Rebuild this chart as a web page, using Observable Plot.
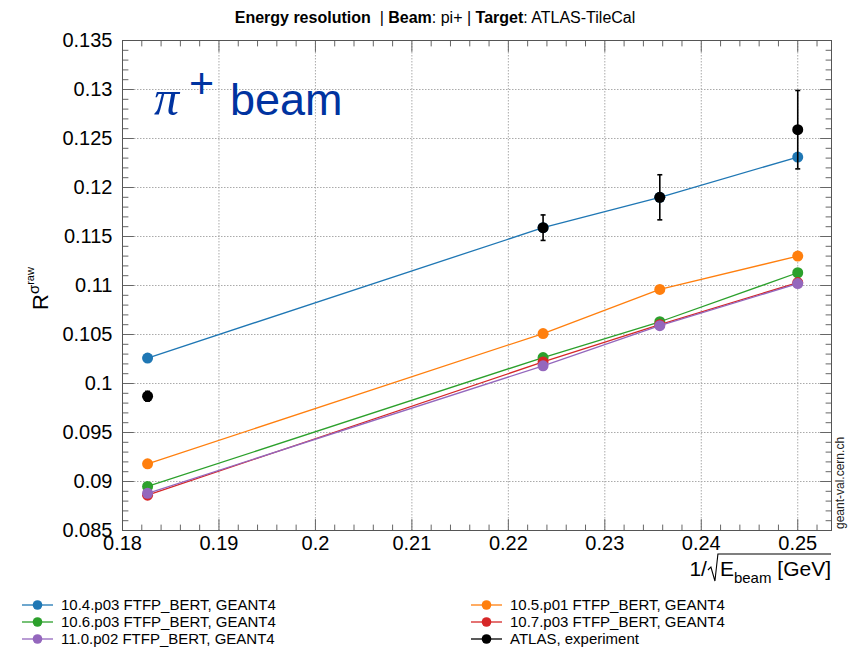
<!DOCTYPE html>
<html><head><meta charset="utf-8">
<script src="https://cdn.jsdelivr.net/npm/d3@7"></script>
<script src="https://cdn.jsdelivr.net/npm/@observablehq/plot@0.6"></script>
<style>body{margin:0;background:#fff;} svg{display:block}</style>
</head><body><div id="chart"></div>
<script>
// ---------- data ----------
const xValues = [0.1826, 0.2236, 0.2357, 0.25]; // 1/sqrt(E) for 30, 20, 18, 16 GeV
const seriesNames = [
  "10.4.p03 FTFP_BERT, GEANT4",
  "10.5.p01 FTFP_BERT, GEANT4",
  "10.6.p03 FTFP_BERT, GEANT4",
  "10.7.p03 FTFP_BERT, GEANT4",
  "11.0.p02 FTFP_BERT, GEANT4"
];
const seriesColors = ["#1f77b4", "#ff7f0e", "#2ca02c", "#d62728", "#9467bd"];
const v104 = [0.1026, 0.1159, 0.1190, 0.1231];
const v105 = [0.0918, 0.1051, 0.1096, 0.1130];
const v106 = [0.0895, 0.10265, 0.1063, 0.1113];
const v107 = [0.0886, 0.1022, 0.1060, 0.1103];
const v110 = [0.0888, 0.1018, 0.1059, 0.1102];
const atlasName = "ATLAS, experiment";
const atlasY = [0.0987, 0.1159, 0.1190, 0.1259];
const atlasErr = [0.0005, 0.0013, 0.0023, 0.0040];
const xTicks = [0.18, 0.19, 0.2, 0.21, 0.22, 0.23, 0.24, 0.25];
const yTicks = [0.085, 0.09, 0.095, 0.1, 0.105, 0.11, 0.115, 0.12, 0.125, 0.13, 0.135];
const xDomain = [0.18, 0.2535];
const yDomain = [0.085, 0.135];
const legendOrder = [0, 1, 2, 3, 4, 5]; // 5 = ATLAS

// ---------- build tables ----------
const seriesValues = [v104, v105, v106, v107, v110];
const sim = seriesValues.flatMap((vals, i) => vals.map((v, j) => ({series: seriesNames[i], idx: i, x: xValues[j], y: v})));
const atlas = atlasY.map((v, j) => ({x: xValues[j], y: v, lo: v - atlasErr[j], hi: v + atlasErr[j]}));
const xMinor = d3.range(0, 37).map(k => +(0.18 + k * 0.002).toFixed(4)).filter(v => v <= xDomain[1] && !xTicks.includes(v));
const yMinor = d3.range(0, 51).map(k => +(0.085 + k * 0.001).toFixed(4)).filter(v => !yTicks.includes(v));

const FONT = "'Liberation Sans', Arial, Helvetica, sans-serif";
const capSymbol = {draw(ctx, size) { ctx.moveTo(-2.5, 0); ctx.lineTo(2.5, 0); }};
const tickShape = {draw(ctx, l) { ctx.moveTo(0, 0); ctx.lineTo(0, -l); }};
const tickCol = "#666";

function inTicks(values, side, len) {
  const o = {shape: tickShape, length: len, anchor: "start", stroke: tickCol, strokeWidth: 1, frameAnchor: side};
  if (side === "bottom") return Plot.vector(values, {...o, x: d => d, rotate: 0});
  if (side === "top") return Plot.vector(values, {...o, x: d => d, rotate: 180});
  if (side === "left") return Plot.vector(values, {...o, y: d => d, rotate: 90});
  return Plot.vector(values, {...o, y: d => d, rotate: -90});
}

const marks = [
  Plot.gridX(xTicks, {stroke: "#aaa", strokeOpacity: 1, strokeDasharray: "1.5,1.5", strokeWidth: 1}),
  Plot.gridY(yTicks, {stroke: "#aaa", strokeOpacity: 1, strokeDasharray: "1.5,1.5", strokeWidth: 1}),
  inTicks(xTicks, "bottom", 11), inTicks(xTicks, "top", 11),
  inTicks(xMinor, "bottom", 5.5), inTicks(xMinor, "top", 5.5),
  inTicks(yTicks, "left", 11), inTicks(yTicks, "right", 11),
  inTicks(yMinor, "left", 5.5), inTicks(yMinor, "right", 5.5),
  // tick labels
  Plot.axisX({anchor: "bottom", ticks: xTicks, tickSize: 0, tickPadding: 5, fontSize: 20, tickFormat: d => String(d), label: null, fill: "#000"}),
  Plot.axisY({anchor: "left", ticks: yTicks, tickSize: 0, tickPadding: 10, fontSize: 20, tickFormat: d => String(d), label: null, fill: "#000"}),
  Plot.frame({stroke: "#555", strokeWidth: 1})
];
seriesValues.forEach((vals, i) => {
  const d = sim.filter(r => r.idx === i);
  marks.push(Plot.line(d, {x: "x", y: "y", stroke: seriesColors[i], strokeWidth: 1.3}));
  marks.push(Plot.dot(d, {x: "x", y: "y", fill: seriesColors[i], r: 5.5, stroke: "none"}));
});
marks.push(Plot.ruleX(atlas, {x: "x", y1: "lo", y2: "hi", stroke: "#000", strokeWidth: 1.6}));
marks.push(Plot.dot(atlas, {x: "x", y: "lo", symbol: capSymbol, stroke: "#000", strokeWidth: 1.6, fill: "none"}));
marks.push(Plot.dot(atlas, {x: "x", y: "hi", symbol: capSymbol, stroke: "#000", strokeWidth: 1.6, fill: "none"}));
marks.push(Plot.dot(atlas, {x: "x", y: "y", fill: "#000", r: 5.5, stroke: "none"}));

const chart = Plot.plot({
  width: 848, height: 648,
  marginLeft: 122, marginRight: 17, marginTop: 40, marginBottom: 118,
  style: {fontFamily: FONT, background: "#fff", color: "#000"},
  x: {domain: xDomain},
  y: {domain: yDomain},
  marks
});
document.getElementById("chart").appendChild(chart);

// ---------- annotations ----------
const svg = d3.select(chart);

// title
const title = svg.append("text").attr("x", 435).attr("y", 23).attr("text-anchor", "middle")
  .style("font-family", FONT).style("font-size", "16px").attr("fill", "#000");
title.append("tspan").attr("font-weight", "bold").text("Energy resolution");
title.append("tspan").text("  | ");
title.append("tspan").attr("font-weight", "bold").text("Beam");
title.append("tspan").text(": pi+ | ");
title.append("tspan").attr("font-weight", "bold").text("Target");
title.append("tspan").text(": ATLAS-TileCal");

// pi+ beam label
const pb = svg.append("text").attr("y", 115).attr("fill", "#0033a0").attr("text-anchor", "start")
  .style("font-family", FONT).style("font-size", "45px");
pb.append("tspan").attr("x", 154).style("font-family", "'Liberation Serif', 'DejaVu Serif', serif").style("font-style", "italic").style("font-size", "50px").text("π");
pb.append("tspan").attr("x", 189).attr("y", 98).style("font-size", "43px").text("+");
pb.append("tspan").attr("x", 230).attr("y", 115).text("beam");

// y label
const yl = svg.append("g").attr("transform", "translate(48,310) rotate(-90)");
const ylt = yl.append("text").attr("x", 0).attr("y", 0).attr("text-anchor", "start").style("font-family", FONT).attr("fill", "#000");
ylt.append("tspan").style("font-size", "22px").text("R");
ylt.append("tspan").attr("dy", -9).style("font-size", "15px").text("σ");
ylt.append("tspan").attr("dy", -5).style("font-size", "11px").text("raw");

// x label: 1/√(E_beam [GeV])
const xl = svg.append("g");
const part1 = xl.append("text").attr("x", 0).attr("y", 0).attr("text-anchor", "start").style("font-family", FONT).style("font-size", "21px").attr("fill", "#000").text("1/");
const w1 = part1.node().getComputedTextLength();
const sqrtStart = w1 + 1;
const radEnd = sqrtStart + 10;
const part2 = xl.append("text").attr("x", radEnd + 2).attr("y", 0).attr("text-anchor", "start").style("font-family", FONT).attr("fill", "#000");
part2.append("tspan").style("font-size", "21px").text("E");
part2.append("tspan").attr("dy", 7).style("font-size", "15px").text("beam");
part2.append("tspan").attr("dy", -7).style("font-size", "21px").text(" [GeV]");
const w2 = part2.node().getComputedTextLength();
const totalW = radEnd + 2 + w2;
xl.append("path").attr("d", `M${sqrtStart},-6 L${sqrtStart + 3},-9 L${sqrtStart + 7},5 L${radEnd},-22 L${totalW},-22`)
  .attr("fill", "none").attr("stroke", "#000").attr("stroke-width", 1.1);
xl.attr("transform", `translate(${831 - totalW},576)`);

// watermark
svg.append("text").attr("transform", "translate(844,529) rotate(-90)").attr("text-anchor", "start")
  .style("font-family", FONT).style("font-size", "12px").attr("fill", "#222").text("geant-val.cern.ch");

// legend
const legendEntries = [
  {name: seriesNames[0], color: seriesColors[0]},
  {name: seriesNames[1], color: seriesColors[1]},
  {name: seriesNames[2], color: seriesColors[2]},
  {name: seriesNames[3], color: seriesColors[3]},
  {name: seriesNames[4], color: seriesColors[4]},
  {name: atlasName, color: "#000"}
];
const colX = [22, 471], rowY = [605, 622, 639];
legendOrder.forEach((k, i) => {
  const e = legendEntries[k];
  const x0 = colX[i % 2], y0 = rowY[Math.floor(i / 2)];
  const g = svg.append("g").attr("transform", `translate(${x0},${y0})`);
  g.append("line").attr("x1", 0).attr("x2", 31).attr("y1", 0).attr("y2", 0).attr("stroke", e.color).attr("stroke-width", 1.3);
  g.append("circle").attr("cx", 15.5).attr("cy", 0).attr("r", 4.8).attr("fill", e.color);
  g.append("text").attr("x", 39).attr("y", 5.3).attr("text-anchor", "start").style("font-family", FONT).style("font-size", "15px").attr("fill", "#000").text(e.name);
});
</script></body></html>
